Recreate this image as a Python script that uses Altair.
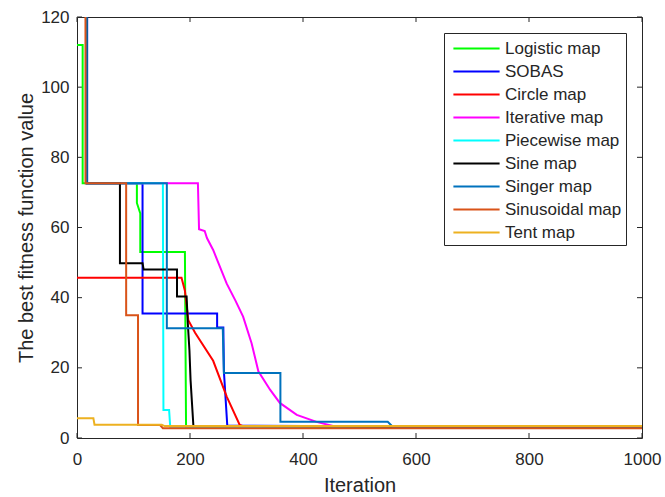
import altair as alt
import pandas as pd

series_names = ["Logistic map", "SOBAS", "Circle map", "Iterative map", "Piecewise map",
                "Sine map", "Singer map", "Sinusoidal map", "Tent map"]
series_colors = ["#00FF00", "#0000FF", "#FF0000", "#FF00FF", "#00FFFF",
                 "#000000", "#0072BD", "#D95319", "#EDB120"]

logistic_x = [0, 10, 10, 106, 106, 112, 112, 191, 193, 1000]
logistic_y = [112, 112, 72.6, 72.6, 67, 64, 53, 53, 3.2, 3.0]

sobas_x = [0, 18, 18, 116, 116, 248, 248, 259, 260, 266, 1000]
sobas_y = [300, 300, 72.6, 72.6, 35.5, 35.5, 31.5, 31.5, 19, 3.5, 3.0]

circle_x = [0, 185, 191, 197, 209, 241, 265, 288, 300, 1000]
circle_y = [45.7, 45.7, 42, 33.6, 30, 22, 11.8, 3.7, 3.0, 3.0]

iterative_x = [0, 17, 17, 214, 216, 226, 230, 241, 250, 265, 280, 294, 309, 321, 342,
               359, 389, 424, 453, 470, 1000]
iterative_y = [300, 300, 72.6, 72.6, 59.5, 59, 57, 53.6, 50, 44, 39.3, 34.6, 27, 19, 13.7,
               10, 6.6, 4.6, 3.4, 3.0, 3.0]

piecewise_x = [0, 17, 17, 152, 153, 163, 165, 1000]
piecewise_y = [300, 300, 72.6, 72.6, 8, 8, 3.2, 3.0]

sine_x = [0, 17, 17, 76, 76, 116, 118, 177, 177, 194, 196, 199, 201, 206, 1000]
sine_y = [300, 300, 72.6, 72.6, 49.8, 49.8, 48, 48, 40.3, 40.3, 33, 25, 16.5, 3.5, 3.0]

singer_x = [0, 17, 17, 159, 159, 258, 260, 360, 360, 550, 560, 1000]
singer_y = [300, 300, 72.6, 72.6, 31.3, 31.3, 18.5, 18.5, 4.6, 4.6, 3.0, 3.0]

sinusoidal_x = [0, 15, 15, 87, 87, 108, 108, 147, 152, 1000]
sinusoidal_y = [300, 300, 72.6, 72.6, 35, 35, 3.7, 3.7, 2.8, 2.8]

tent_x = [0, 29, 31, 150, 155, 1000]
tent_y = [5.6, 5.6, 3.8, 3.8, 3.4, 3.4]

x_ticks = [0, 200, 400, 600, 800, 1000]
y_ticks = [0, 20, 40, 60, 80, 100, 120]

all_x = [logistic_x, sobas_x, circle_x, iterative_x, piecewise_x, sine_x, singer_x,
         sinusoidal_x, tent_x]
all_y = [logistic_y, sobas_y, circle_y, iterative_y, piecewise_y, sine_y, singer_y,
         sinusoidal_y, tent_y]

W, H = 565, 421
FONT = "Liberation Sans"
AX = "#262626"

xscale = alt.Scale(domain=[0, 1000], nice=False, zero=False)
yscale = alt.Scale(domain=[0, 120], nice=False, zero=False)
cscale = alt.Scale(domain=series_names, range=series_colors)

layers = []
for i, name in enumerate(series_names):
    df = pd.DataFrame({"Iteration": all_x[i], "value": all_y[i],
                       "series": name, "ord": list(range(len(all_x[i])))})
    ln = alt.Chart(df).mark_line(strokeWidth=2, clip=True).encode(
        x=alt.X("Iteration:Q", scale=xscale,
                axis=alt.Axis(values=x_ticks, title="Iteration", format="d", ticks=False,
                              domain=False, grid=False, labelFontSize=17, titleFontSize=20,
                              labelPadding=13, titlePadding=8, labelColor=AX,
                              titleColor=AX, titleFontWeight="normal", labelFont=FONT,
                              titleFont=FONT, labelFlush=False)),
        y=alt.Y("value:Q", scale=yscale,
                axis=alt.Axis(values=y_ticks, title="The best fitness function value",
                              ticks=False, domain=False, grid=False, labelFontSize=17,
                              titleFontSize=20, labelPadding=8, titlePadding=4,
                              labelColor=AX, titleColor=AX, titleFontWeight="normal",
                              labelFont=FONT, titleFont=FONT, labelFlush=False)),
        color=alt.Color("series:N", scale=cscale, sort=series_names,
                        legend=alt.Legend(title=None)),
        order="ord:Q",
    )
    layers.append(ln)

xt = pd.DataFrame({"t": x_ticks})
yt = pd.DataFrame({"t": y_ticks})
tick_layers = [
    alt.Chart(xt).mark_rule(color=AX, strokeWidth=1).encode(
        x=alt.X("t:Q", scale=xscale), y=alt.value(H), y2=alt.value(H - 5)),
    alt.Chart(xt).mark_rule(color=AX, strokeWidth=1).encode(
        x=alt.X("t:Q", scale=xscale), y=alt.value(0), y2=alt.value(5)),
    alt.Chart(yt).mark_rule(color=AX, strokeWidth=1).encode(
        y=alt.Y("t:Q", scale=yscale), x=alt.value(0), x2=alt.value(5)),
    alt.Chart(yt).mark_rule(color=AX, strokeWidth=1).encode(
        y=alt.Y("t:Q", scale=yscale), x=alt.value(W), x2=alt.value(W - 5)),
]

chart = alt.layer(*tick_layers, *layers).properties(
    width=W, height=H,
    autosize=alt.AutoSizeParams(type="none"),
    padding={"left": 77, "top": 17, "right": 23, "bottom": 59},
    background="white",
).configure_view(stroke=AX, strokeWidth=1).configure_legend(
    orient="top-right", offset=16, strokeColor=AX, fillColor="white", cornerRadius=0,
    padding=4, symbolType="M-2.2,0H2.2", symbolSize=441, symbolStrokeWidth=2,
    symbolOffset=17, labelOffset=17, labelFontSize=17, labelFont=FONT, labelColor=AX,
    rowPadding=3, labelLimit=300,
)

chart.save("out.html", embed_options={"renderer": "svg", "actions": False})
